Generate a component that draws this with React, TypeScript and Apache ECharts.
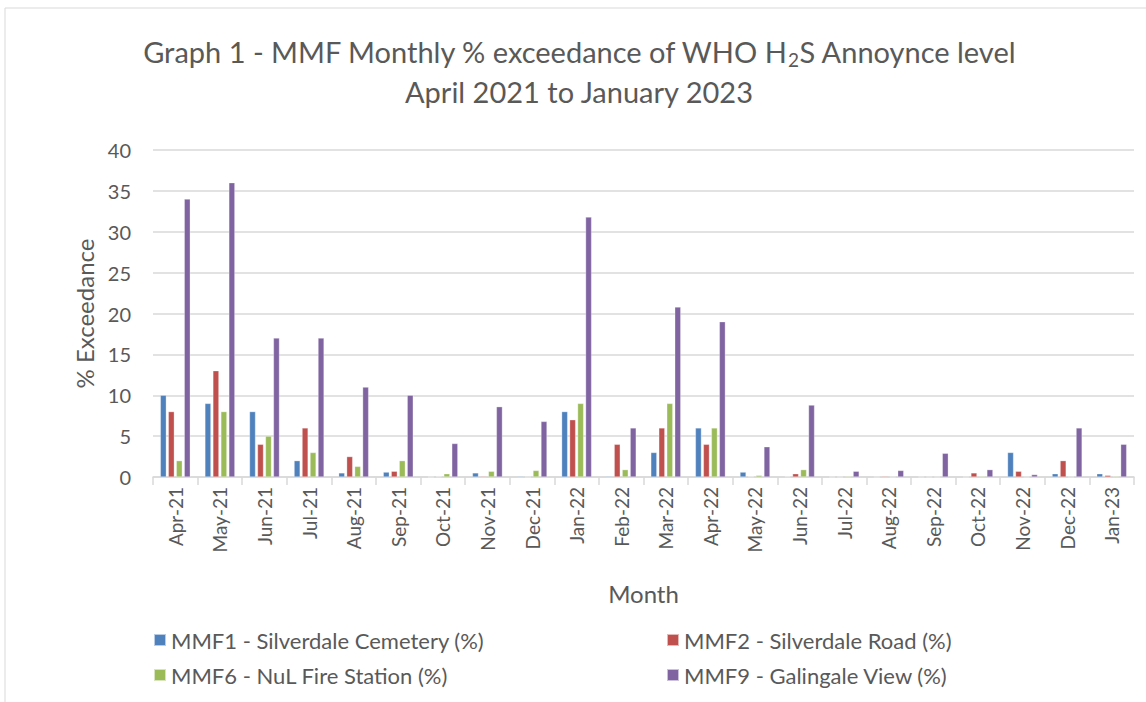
import React, { useEffect, useRef } from "react";
import * as echarts from "echarts";

const categories = ["Apr-21","May-21","Jun-21","Jul-21","Aug-21","Sep-21","Oct-21","Nov-21","Dec-21","Jan-22","Feb-22","Mar-22","Apr-22","May-22","Jun-22","Jul-22","Aug-22","Sep-22","Oct-22","Nov-22","Dec-22","Jan-23"];
const mmf1 = [10, 9, 8, 2, 0.5, 0.6, 0, 0.5, 0.1, 8, 0.1, 3, 6, 0.6, 0.05, 0, 0, 0, 0, 3, 0.4, 0.4];
const mmf2 = [8, 13, 4, 6, 2.5, 0.7, 0.05, 0.1, 0, 7, 4, 6, 4, 0.05, 0.4, 0, 0.1, 0, 0.5, 0.7, 2, 0.2];
const mmf6 = [2, 8, 5, 3, 1.3, 2, 0.4, 0.7, 0.8, 9, 0.9, 9, 6, 0.2, 0.9, 0.1, 0, 0, 0.1, 0, 0, 0.1];
const mmf9 = [34, 36, 17, 17, 11, 10, 4.1, 8.6, 6.8, 31.8, 6, 20.8, 19, 3.7, 8.8, 0.7, 0.8, 2.9, 0.9, 0.3, 6, 4];
const seriesNames = ["MMF1 - Silverdale Cemetery (%)", "MMF2 - Silverdale Road (%)", "MMF6 - NuL Fire Station (%)", "MMF9 - Galingale View (%)"];
const colors = ["#4F81BD", "#C0504D", "#9BBB59", "#8064A2"];

const FONT = "Lato";
const TXT = "#595959";

export default function App() {
  const ref = useRef<HTMLDivElement>(null);
  useEffect(() => {
    const chart = echarts.init(ref.current!, null, { renderer: "svg" });
    const data = [mmf1, mmf2, mmf6, mmf9];
    const legendPos = [
      { left: 148, top: 624 },
      { left: 661, top: 624 },
      { left: 148, top: 659 },
      { left: 661, top: 659 },
    ];
    chart.setOption({
      animation: false,
      textStyle: { fontFamily: FONT },
      graphic: [
        {
          type: "rect",
          shape: { x: 5, y: 8, width: 1160, height: 720 },
          style: { fill: "none", stroke: "#d9d9d9", lineWidth: 1 },
          silent: true,
        },
      ],
      title: {
        left: 574,
        textAlign: "center",
        top: 26,
        text: "{t|Graph 1 - MMF Monthly % exceedance of WHO H}{s|2}{t|S Annoynce level}\n{t|April 2021 to January 2023}",
        textStyle: {
          fontWeight: "normal",
          rich: {
            t: { fontFamily: FONT, fontSize: 29, fontWeight: "normal", color: TXT, lineHeight: 40 },
            s: { fontFamily: FONT, fontSize: 19, fontWeight: "normal", color: TXT, lineHeight: 40, padding: [16, 0, 0, 0] },
          },
        },
      },
      legend: seriesNames.map((n, i) => ({
        data: [n],
        left: legendPos[i].left,
        top: legendPos[i].top,
        icon: "rect",
        itemWidth: 12,
        itemHeight: 12,
        itemGap: 6,
        textStyle: { fontFamily: FONT, fontSize: 22, color: TXT },
      })),
      grid: { left: 153, right: 12, top: 150, bottom: 225, containLabel: false },
      xAxis: {
        type: "category",
        data: categories,
        name: "Month",
        nameLocation: "middle",
        nameGap: 104,
        nameTextStyle: { fontFamily: FONT, fontSize: 24, color: TXT },
        axisLine: { lineStyle: { color: "#d9d9d9", width: 1.5 } },
        axisTick: { show: true, length: 8, lineStyle: { color: "#d9d9d9", width: 1.5 } },
        axisLabel: { rotate: 90, fontSize: 19, color: TXT, margin: 10, fontFamily: FONT },
      },
      yAxis: {
        type: "value",
        min: 0,
        max: 40,
        interval: 5,
        name: "% Exceedance",
        nameLocation: "middle",
        nameGap: 56,
        nameTextStyle: { fontFamily: FONT, fontSize: 24, color: TXT },
        axisLine: { show: false },
        axisTick: { show: false },
        axisLabel: { fontSize: 20, color: TXT, margin: 22, fontFamily: FONT },
        splitLine: { lineStyle: { color: "#d9d9d9", width: 1.5 } },
      },
      series: data.map((d, i) => ({
        name: seriesNames[i],
        type: "bar",
        data: d,
        barWidth: 6,
        barGap: "33%",
        itemStyle: { color: colors[i], borderColor: "rgba(255,255,255,0.6)", borderWidth: 0.5 },
      })),
    });
    return () => chart.dispose();
  }, []);
  return <div ref={ref} style={{ position: "absolute", left: 0, top: 0, width: 1146, height: 702 }} />;
}
